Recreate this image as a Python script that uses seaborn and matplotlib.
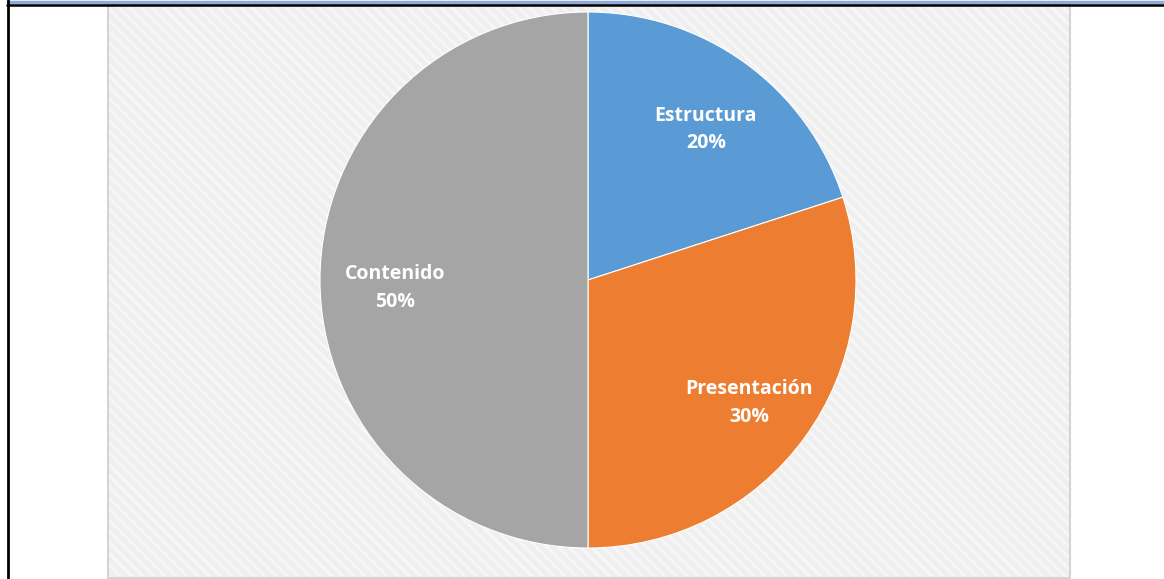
import matplotlib
matplotlib.use("Agg")
import matplotlib.pyplot as plt
import matplotlib.transforms as mtransforms
import seaborn as sns
from matplotlib.patches import Rectangle
from matplotlib.lines import Line2D

categories = ["Estructura", "Presentación", "Contenido"]
values = [20, 30, 50]
colors = ["#5B9BD5", "#ED7D31", "#A5A5A5"]

sns.set_theme(style="white")
plt.rcParams['font.family'] = ['Open Sans', 'DejaVu Sans']
plt.rcParams['hatch.linewidth'] = 2.0

W, H = 1164, 579
fig = plt.figure(figsize=(W / 100, H / 100), dpi=100)
fig.patch.set_facecolor("white")

# chart area background (light hatched)
bx0, bx1, by0, by1 = 108, 1070, 5, 578
bg = Rectangle((bx0 / W, 1 - by1 / H), (bx1 - bx0) / W, (by1 - by0) / H,
               transform=fig.transFigure, facecolor="#efefef",
               edgecolor="#f7f7f7", hatch="\\\\\\", linewidth=0, zorder=-3)
fig.patches.append(bg)
border = Rectangle((bx0 / W, 1 - by1 / H), (bx1 - bx0) / W, (by1 - by0) / H,
                   transform=fig.transFigure, facecolor="none",
                   edgecolor="#d4d4d4", linewidth=1.5, zorder=-2)
fig.patches.append(border)

# frame lines of the document table
fig.add_artist(Line2D([9 / W, 1], [1 - 1.5 / H, 1 - 1.5 / H], color="#8EAADB",
                      linewidth=2.5, transform=fig.transFigure))
fig.add_artist(Line2D([7 / W, 1], [1 - 4.5 / H, 1 - 4.5 / H], color="black",
                      linewidth=1.8, transform=fig.transFigure))
fig.add_artist(Line2D([8 / W, 8 / W], [0, 1], color="black",
                      linewidth=2.0, transform=fig.transFigure))

# pie axes
cx, cy, r = 588, 280, 268
ax = fig.add_axes([(cx - r) / W, (H - cy - r) / H, 2 * r / W, 2 * r / H])
ax.set_zorder(5)
ax.set_facecolor("none")
labels = [f"{c}\n{v}%" for c, v in zip(categories, values)]
wedges, texts = ax.pie(values, labels=labels, colors=colors, startangle=90,
                       counterclock=False, labeldistance=0.73,
                       wedgeprops=dict(linewidth=0.8, edgecolor="white"),
                       textprops=dict(color="white", fontsize=14, fontweight="bold",
                                      ha="center", va="center", linespacing=1.5))
shift = mtransforms.offset_copy(ax.transData, fig=fig, x=3, y=-8, units="dots")
for t in texts:
    t.set_horizontalalignment("center")
    t.set_multialignment("center")
    t.set_transform(shift)
ax.set_xlim(-1, 1)
ax.set_ylim(-1, 1)
ax.set_aspect("equal")
ax.axis("off")

fig.savefig("out.png", dpi=100)
